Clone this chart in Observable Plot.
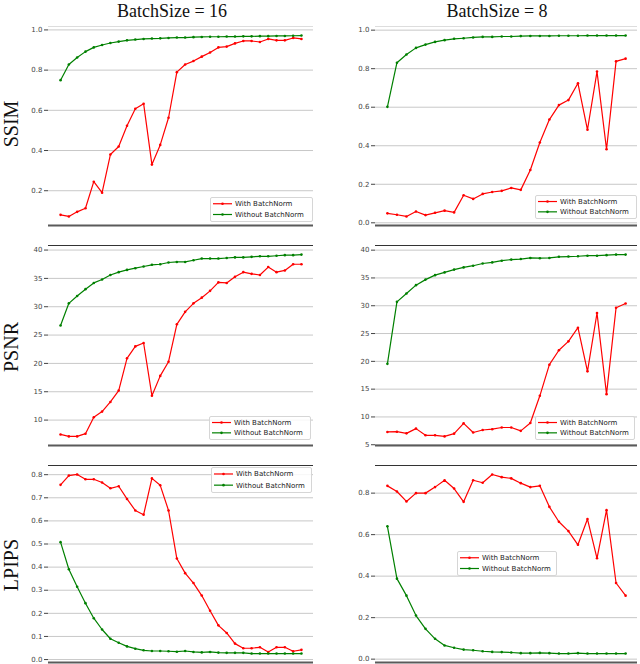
<!DOCTYPE html>
<html><head><meta charset="utf-8">
<script src="https://cdn.jsdelivr.net/npm/d3@7"></script>
<script src="https://cdn.jsdelivr.net/npm/@observablehq/plot@0.6"></script>
<style>
body{margin:0;background:#fff;}
#wrap{position:relative;width:640px;height:664px;overflow:hidden;background:#fff;}
.panel{position:absolute;}
.legend{position:absolute;background:rgba(255,255,255,0.85);border:1px solid #d6d6d6;border-radius:2px;box-sizing:border-box;}
</style></head>
<body><div id="wrap"></div>
<script>
// ---- data ----
const seriesNames = ["With BatchNorm", "Without BatchNorm"];
const columnTitles = ["BatchSize = 16", "BatchSize = 8"];
const rowLabels = ["SSIM", "PSNR", "LPIPS"];

const ssim16_bn = [0.08,0.072,0.095,0.113,0.245,0.19,0.38,0.42,0.523,0.608,0.633,0.33,0.428,0.563,0.79,0.828,0.845,0.867,0.888,0.913,0.917,0.933,0.945,0.945,0.94,0.955,0.948,0.948,0.96,0.955];
const ssim16_nobn = [0.75,0.828,0.863,0.892,0.913,0.925,0.935,0.942,0.948,0.952,0.955,0.957,0.958,0.96,0.962,0.962,0.964,0.965,0.966,0.966,0.967,0.967,0.968,0.968,0.969,0.969,0.97,0.97,0.971,0.972];
const ssim8_bn = [0.049,0.042,0.033,0.059,0.04,0.052,0.063,0.054,0.143,0.124,0.15,0.16,0.166,0.181,0.171,0.274,0.417,0.536,0.611,0.637,0.724,0.483,0.785,0.382,0.838,0.852];
const ssim8_nobn = [0.602,0.831,0.874,0.908,0.925,0.939,0.948,0.955,0.958,0.962,0.965,0.965,0.967,0.967,0.969,0.97,0.97,0.97,0.971,0.971,0.971,0.972,0.972,0.972,0.972,0.972];
const psnr16_bn = [7.47,7.12,7.12,7.6,10.5,11.5,13.2,15.2,20.9,23.0,23.6,14.3,17.8,20.3,26.9,29.1,30.6,31.6,32.8,34.3,34.2,35.3,36.1,35.8,35.6,37.0,36.1,36.4,37.5,37.5];
const psnr16_nobn = [26.7,30.6,31.9,33.1,34.2,34.8,35.6,36.1,36.5,36.8,37.1,37.4,37.5,37.8,37.9,37.9,38.2,38.5,38.5,38.5,38.6,38.7,38.7,38.8,38.9,38.9,39.0,39.1,39.1,39.2];
const psnr8_bn = [7.3,7.35,7.05,7.9,6.7,6.7,6.5,7.0,8.85,7.2,7.65,7.8,8.1,8.1,7.5,8.9,13.8,19.4,22.0,23.6,26.05,18.2,28.7,14.1,29.65,30.4];
const psnr8_nobn = [19.55,30.7,32.2,33.7,34.7,35.5,36.0,36.5,36.9,37.2,37.6,37.8,38.1,38.3,38.4,38.6,38.55,38.6,38.8,38.85,38.9,39.0,39.0,39.1,39.2,39.2];
const lpips16_bn = [0.756,0.796,0.801,0.78,0.78,0.766,0.741,0.75,0.695,0.645,0.627,0.784,0.754,0.645,0.437,0.374,0.331,0.277,0.211,0.148,0.115,0.069,0.049,0.049,0.053,0.033,0.053,0.053,0.036,0.042];
const lpips16_nobn = [0.508,0.391,0.315,0.244,0.179,0.13,0.09,0.073,0.057,0.047,0.04,0.037,0.037,0.036,0.034,0.037,0.033,0.031,0.033,0.030,0.029,0.029,0.029,0.026,0.026,0.026,0.026,0.026,0.026,0.026];
const lpips8_bn = [0.835,0.808,0.76,0.8,0.8,0.829,0.862,0.822,0.758,0.862,0.85,0.89,0.877,0.871,0.848,0.829,0.835,0.734,0.662,0.617,0.551,0.675,0.486,0.718,0.367,0.306];
const lpips8_nobn = [0.64,0.388,0.306,0.21,0.146,0.098,0.066,0.055,0.046,0.043,0.038,0.035,0.034,0.032,0.029,0.029,0.030,0.029,0.027,0.027,0.029,0.027,0.027,0.027,0.027,0.027];

const ticksSSIM16 = [0.2,0.4,0.6,0.8,1.0];
const ticksSSIM8 = [0.0,0.2,0.4,0.6,0.8,1.0];
const ticksPSNR16 = [10,15,20,25,30,35,40];
const ticksPSNR8 = [5,10,15,20,25,30,35,40];
const ticksLPIPS16 = [0.0,0.1,0.2,0.3,0.4,0.5,0.6,0.7,0.8];
const ticksLPIPS8 = [0.0,0.2,0.4,0.6,0.8];

// ---- layout ----
const wrap = document.getElementById("wrap");
const colLeft = [0, 320], colML = [48, 55], colMR = [7, 3];
const rowTop = [0, 232, 452], rowH = [232, 220, 212], rowMT = [26, 13, 13], rowMB = [7, 7, 2];
const topRuleColor = ["#dddddd", "#333333", "#333333"];
const colors = ["#ff0000", "#008000"];

// titles and row labels
const ov = d3.create("svg").attr("width", 640).attr("height", 664)
  .style("position", "absolute").style("left", "0px").style("top", "0px");
[172, 497].forEach((cx, k) => ov.append("text").attr("x", cx).attr("y", 17)
  .attr("text-anchor", "middle").attr("font-family", "Liberation Serif, serif")
  .attr("font-size", 18).attr("fill", "#111").text(columnTitles[k]));
[124, 347, 565].forEach((cy, k) => ov.append("text")
  .attr("transform", `translate(18,${cy}) rotate(-90)`)
  .attr("text-anchor", "middle").attr("font-family", "Liberation Serif, serif")
  .attr("font-size", 20).attr("fill", "#111").text(rowLabels[k]));
wrap.appendChild(ov.node());

function panel(bn, nobn, row, col, ticks, fmt) {
  const data = [
    ...bn.map((v, i) => ({i, v, s: seriesNames[0]})),
    ...nobn.map((v, i) => ({i, v, s: seriesNames[1]}))
  ];
  const [lo, hi] = d3.extent(bn.concat(nobn));
  const m = (hi - lo) * 0.05;
  const ydom = [lo - m, hi + m];
  const n = bn.length, xm = (n - 1) * 0.05;
  const chart = Plot.plot({
    width: 320, height: rowH[row],
    marginLeft: colML[col], marginRight: colMR[col],
    marginTop: rowMT[row], marginBottom: rowMB[row],
    x: {domain: [-xm, n - 1 + xm], axis: null},
    y: {domain: ydom, axis: null},
    color: {domain: seriesNames, range: colors},
    style: {fontFamily: "DejaVu Sans, sans-serif", fontSize: "7px", background: "transparent", overflow: "visible"},
    marks: [
      Plot.gridY(ticks, {stroke: "#c8c8c8", strokeOpacity: 1, strokeWidth: 1}),
      Plot.ruleY([ydom[1]], {stroke: topRuleColor[row], strokeWidth: 1}),
      Plot.ruleY([ydom[0]], {stroke: "#5a5a5a", strokeWidth: 2}),
      Plot.axisY(ticks, {tickSize: 4, tickPadding: 2, tickFormat: fmt, color: "#444", fontSize: 7, label: null}),
      Plot.line(data, {x: "i", y: "v", z: "s", stroke: "s", strokeWidth: 1.2}),
      Plot.dot(data, {x: "i", y: "v", fill: "s", r: 1.3})
    ]
  });
  chart.classList.add("panel");
  chart.style.left = colLeft[col] + "px";
  chart.style.top = rowTop[row] + "px";
  wrap.appendChild(chart);
}

function legend(left, top, w, h) {
  const div = document.createElement("div");
  div.className = "legend";
  Object.assign(div.style, {left: left + "px", top: top + "px", width: w + "px", height: h + "px"});
  const svg = d3.create("svg").attr("width", w - 2).attr("height", h - 2);
  const rowY = [h * 0.23, h * 0.66];
  seriesNames.forEach((name, k) => {
    const y = rowY[k];
    svg.append("line").attr("x1", 2).attr("x2", 21).attr("y1", y).attr("y2", y)
      .attr("stroke", colors[k]).attr("stroke-width", 1.2);
    svg.append("circle").attr("cx", 11.5).attr("cy", y).attr("r", 1.3).attr("fill", colors[k]);
    svg.append("text").attr("x", 24).attr("y", y + 2.5)
      .attr("font-family", "DejaVu Sans, sans-serif").attr("font-size", 7).attr("fill", "#222").text(name);
  });
  div.appendChild(svg.node());
  wrap.appendChild(div);
}

const f1 = d3.format(".1f"), f0 = d3.format("d");
panel(ssim16_bn, ssim16_nobn, 0, 0, ticksSSIM16, f1);
panel(ssim8_bn, ssim8_nobn, 0, 1, ticksSSIM8, f1);
panel(psnr16_bn, psnr16_nobn, 1, 0, ticksPSNR16, f0);
panel(psnr8_bn, psnr8_nobn, 1, 1, ticksPSNR8, f0);
panel(lpips16_bn, lpips16_nobn, 2, 0, ticksLPIPS16, f1);
panel(lpips8_bn, lpips8_nobn, 2, 1, ticksLPIPS8, f1);

legend(210, 197, 103, 25);
legend(535, 195, 102, 24);
legend(209, 416, 102, 24);
legend(535, 416, 100, 24);
legend(211, 467, 101, 26);
legend(457, 551, 100, 25);
</script>
</body></html>
